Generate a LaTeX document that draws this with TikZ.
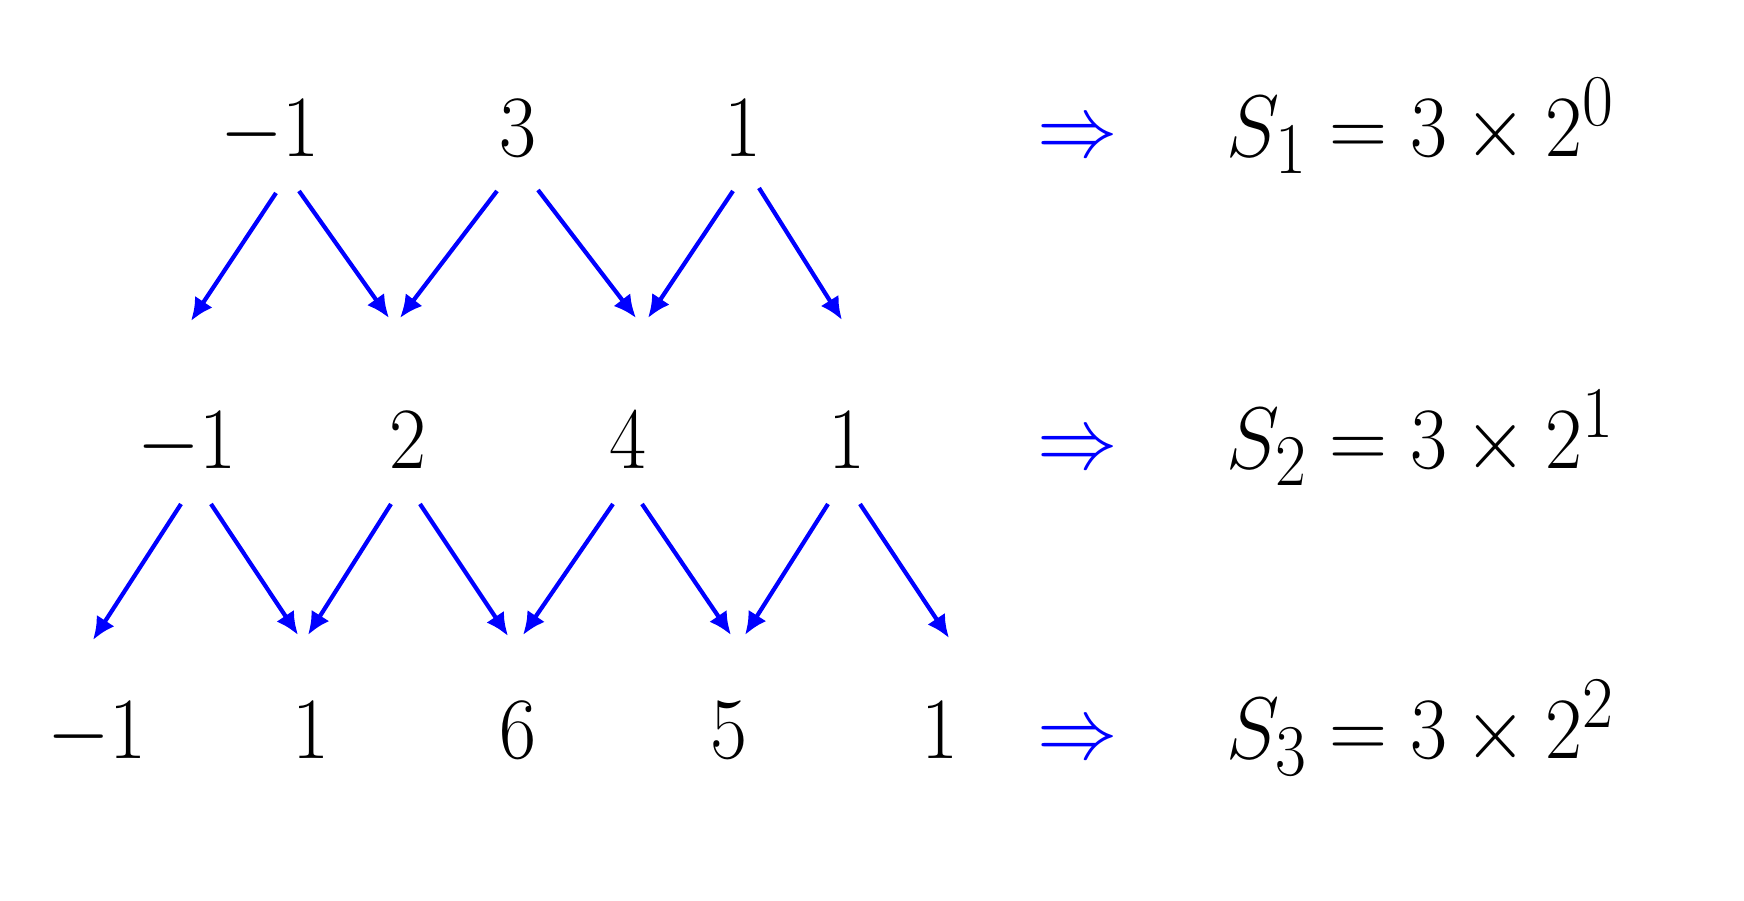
\documentclass[tikz,border=0pt]{standalone}
\usepackage{graphicx}
\usetikzlibrary{arrows.meta}
\newcommand{\nx}[1]{\scalebox{0.92}[1]{$#1$}}
\begin{document}
\begin{tikzpicture}[
  num/.style={anchor=base, inner sep=0pt, font=\Huge},
  imp/.style={anchor=base, inner sep=0pt, font=\Huge, text=blue},
  eqn/.style={anchor=base west, inner sep=0pt, font=\Huge},
  arr/.style={draw=blue, line width=1.2pt, -{Latex[length=6.5pt,width=6pt]}}
]
\useasboundingbox[fill=white] (0,0) rectangle (17.44,9.01);
% row 1
\node[num] (A1) at (2.70,7.44) {\nx{-1}};
\node[num] (A2) at (5.18,7.44) {\nx{3}};
\node[num] (A3) at (7.43,7.44) {\nx{1}};
% row 2
\node[num] (B1) at (1.87,4.32) {\nx{-1}};
\node[num] (B2) at (4.08,4.32) {\nx{2}};
\node[num] (B3) at (6.28,4.32) {\nx{4}};
\node[num] (B4) at (8.47,4.32) {\nx{1}};
% row 3
\node[num] (C1) at (0.97,1.42) {\nx{-1}};
\node[num] (C2) at (3.11,1.42) {\nx{1}};
\node[num] (C3) at (5.18,1.42) {\nx{6}};
\node[num] (C4) at (7.29,1.42) {\nx{5}};
\node[num] (C5) at (9.40,1.42) {\nx{1}};
% implications
\node[imp] (I1) at (10.78,7.44) {\nx{\Rightarrow}};
\node[imp] (I2) at (10.78,4.32) {\nx{\Rightarrow}};
\node[imp] (I3) at (10.78,1.42) {\nx{\Rightarrow}};
\node[eqn] (E1) at (12.26,7.44) {\nx{S_1 = 3\times 2^0}};
\node[eqn] (E2) at (12.26,4.32) {\nx{S_2 = 3\times 2^1}};
\node[eqn] (E3) at (12.26,1.42) {\nx{S_3 = 3\times 2^2}};
% arrows row 1 -> row 2
\draw[arr] ([shift={(0.06,-0.36)}]A1.base) -- ([shift={(0.04,1.48)}]B1.base);
\draw[arr] ([shift={(0.29,-0.34)}]A1.base) -- ([shift={(-0.19,1.51)}]B2.base);
\draw[arr] ([shift={(-0.21,-0.34)}]A2.base) -- ([shift={(-0.08,1.51)}]B2.base);
\draw[arr] ([shift={(0.20,-0.33)}]A2.base) -- ([shift={(0.08,1.51)}]B3.base);
\draw[arr] ([shift={(-0.10,-0.34)}]A3.base) -- ([shift={(0.20,1.51)}]B3.base);
\draw[arr] ([shift={(0.16,-0.31)}]A3.base) -- ([shift={(-0.05,1.49)}]B4.base);
% arrows row 2 -> row 3
\draw[arr] ([shift={(-0.06,-0.35)}]B1.base) -- ([shift={(-0.04,1.19)}]C1.base);
\draw[arr] ([shift={(0.24,-0.35)}]B1.base) -- ([shift={(-0.13,1.24)}]C2.base);
\draw[arr] ([shift={(-0.17,-0.35)}]B2.base) -- ([shift={(-0.03,1.24)}]C2.base);
\draw[arr] ([shift={(0.12,-0.35)}]B2.base) -- ([shift={(-0.10,1.23)}]C3.base);
\draw[arr] ([shift={(-0.15,-0.35)}]B3.base) -- ([shift={(0.05,1.24)}]C3.base);
\draw[arr] ([shift={(0.14,-0.35)}]B3.base) -- ([shift={(0.02,1.24)}]C4.base);
\draw[arr] ([shift={(-0.19,-0.35)}]B4.base) -- ([shift={(0.16,1.24)}]C4.base);
\draw[arr] ([shift={(0.13,-0.35)}]B4.base) -- ([shift={(0.09,1.21)}]C5.base);
\end{tikzpicture}
\end{document}
